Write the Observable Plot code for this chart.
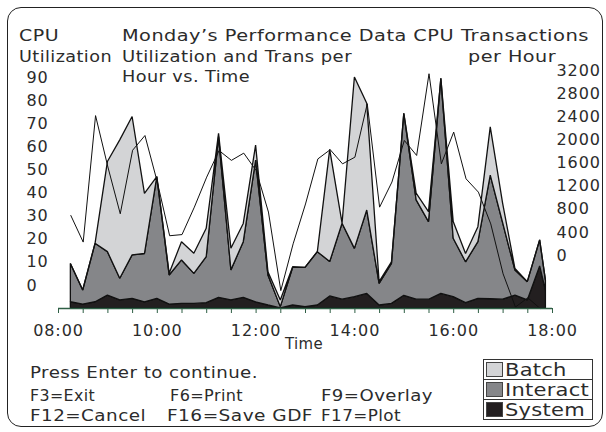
<!DOCTYPE html>
<html><head><meta charset="utf-8">
<script src="https://cdn.jsdelivr.net/npm/d3@7"></script>
<script src="https://cdn.jsdelivr.net/npm/@observablehq/plot@0.6"></script>
<style>
body{margin:0;background:#fff;}
#wrap{position:relative;width:606px;height:432px;font-family:"DejaVu Sans",sans-serif;font-size:16px;color:#2b2b2b;overflow:hidden;}
#frame{position:absolute;left:7px;top:7px;width:596px;height:420px;border:1.5px solid #222;border-radius:14px;box-sizing:border-box;}
.t{position:absolute;white-space:pre;line-height:16px;letter-spacing:0.4px;transform-origin:0 50%;}
#legend{position:absolute;left:483px;top:359px;width:108px;border:1px solid #333;background:#fff;}
.row{height:19px;display:flex;align-items:center;border-top:1px solid #333;position:relative;}
.row:first-child{border-top:none;}
.sw{width:17px;height:15px;margin:0 2px 0 2px;box-sizing:border-box;border:1px solid #444;flex:none;}
.lab{white-space:pre;line-height:16px;font-size:17px;letter-spacing:0.2px;display:inline-block;transform-origin:0 50%;}
#chart{position:absolute;left:0;top:0;}
</style></head>
<body><div id="wrap"><div id="frame"></div><div id="chart"></div></div>
<script>
// ---- data ----
const times = ["08:15","08:30","08:45","09:00","09:15","09:30","09:45","10:00","10:15","10:30",
  "10:45","11:00","11:15","11:30","11:45","12:00","12:15","12:30","12:45","13:00",
  "13:15","13:30","13:45","14:00","14:15","14:30","14:45","15:00","15:15","15:30",
  "15:45","16:00","16:15","16:30","16:45","17:00","17:15","17:30","17:45","17:52"];
const system   = [2.7,1.7,2.7,5.6,3.5,4.2,2.7,4.2,1.7,2.0, 2.0,2.3,4.6,3.5,4.6,2.7,1.3,0.0,1.3,0.6,
  1.3,5.2,3.8,4.9,6.3,1.3,2.0,5.5,3.8,3.8, 6.3,4.9,2.3,4.2,4.0,3.8,5.6,3.5,18.2,7.8];
const interact = [16.6,6.1,25.3,18.8,9.4,18.8,20.9,52.7,12.6,18.8, 13.0,19.9,69.6,13.0,24.1,61.3,13.0,0.6,16.3,17.0,
  23.1,14.9,32.9,20.9,36.1,9.4,17.3,78.8,43.0,33.6, 93.1,25.3,17.7,24.5,53.5,33.2,10.8,7.9,11.3,4.3];
const batch    = [0,0,0,39.0,59.9,59.9,26.0,0,0.7,7.9, 8.7,12.3,1.4,9.4,7.9,6.5,1.4,2.9,0.3,0,
  0,48.6,0,74.2,46.2,0.7,0.7,0,2.9,4.3, 0,7.2,3.6,6.5,20.9,8.4,0.7,0,0,0];
const transactions = [1610,1150,3340,2450,1640,2740,2995,2190,1260,1280, 1755,2275,2735,2565,2690,2390,1670,310,1120,1810,
  2590,2750,2505,2620,3545,1755,2190,2910,2650,4065, 2505,3055,2245,2015,1465,600,25,185,0,0];
const seriesNames = ["Batch","Interact","System"];
const seriesColors = ["#d3d4d6","#858689","#231f20"];
const cpuTicks = [0,10,20,30,40,50,60,70,80,90];
const transTicks = [0,400,800,1200,1600,2000,2400,2800,3200];
const timeTickLabels = ["08:00","10:00","12:00","14:00","16:00","18:00"];
const transPerCpu = 40;

// ---- build ----
const parse = d3.utcParse("%H:%M");
const T = times.map(parse);
const long = [];
T.forEach((t,i)=>{
  long.push({time:t, series:"System", value:system[i]});
  long.push({time:t, series:"Interact", value:interact[i]});
  long.push({time:t, series:"Batch", value:batch[i]});
});
const trans = T.map((t,i)=>({time:t, value:transactions[i]/transPerCpu}));
const axisGreen = "#2f5f45";
const halfHours = d3.utcMinute.every(30).range(parse("08:00"), new Date(+parse("18:00")+1));

const chart = Plot.plot({
  width:606, height:432,
  marginLeft:58, marginRight:54, marginTop:77, marginBottom:124,
  style:{fontFamily:"DejaVu Sans, sans-serif", fontSize:"16px", color:"#2b2b2b", letterSpacing:"0.9px", background:"transparent", overflow:"visible"},
  x:{type:"utc", domain:[parse("08:00"), parse("18:00")]},
  y:{domain:[0,100]},
  color:{domain:seriesNames, range:seriesColors},
  marks:[
    Plot.areaY(long, {x:"time", y:"value", fill:"series", z:"series", order:["System","Interact","Batch"], stroke:"#111", strokeWidth:1.3, strokeLinejoin:"miter"}),
    Plot.line(trans, {x:"time", y:"value", stroke:"#111", strokeWidth:1}),
    Plot.ruleY([0], {stroke:axisGreen, strokeWidth:1.5}),
    Plot.axisX(halfHours, {tickSize:5, stroke:axisGreen, tickFormat:()=>"" , label:null}),
    Plot.axisX(timeTickLabels.map(parse), {tickSize:0, tickPadding:16, tickFormat:d3.utcFormat("%H:%M"), label:null, fill:"#2b2b2b"}),
    Plot.axisY(cpuTicks, {anchor:"left", tickSize:0, tickPadding:0, textAnchor:"start", dx:-32, dy:-23.1, label:null, fill:"#2b2b2b"}),
    Plot.axisY(transTicks.map(v=>v/transPerCpu), {anchor:"right", tickSize:0, tickPadding:4, textAnchor:"start", dy:-53, tickFormat:v=>String(Math.round(v*transPerCpu)), label:null, fill:"#2b2b2b"})
  ]
});
document.getElementById("chart").appendChild(chart);

// ---- static texts (layout: left, baseline, width to fit) ----
const wrap = document.getElementById("wrap");
function fit(el, target){
  const w0 = el.getBoundingClientRect().width;
  const k = target / w0;
  el.style.transform = "scaleX(" + k + ")";
  return k;
}
function txt(s, left, baseline, target, center){
  const d = document.createElement("div");
  d.className = "t"; d.textContent = s;
  d.style.top = (baseline - 13.5) + "px";
  d.style.left = left + "px";
  wrap.appendChild(d);
  if (target) fit(d, target);
  if (center) d.style.left = (left - target/2) + "px";
}
txt("CPU", 19, 41, 40);
txt("Utilization", 19, 62, 93);
txt("Monday\u2019s Performance Data CPU", 122, 41, 332);
txt("Utilization and Trans per", 122, 62, 230);
txt("Hour vs. Time", 122, 82, 128);
txt("Transactions", 461, 41, 128);
txt("per Hour", 468, 62, 88);
txt("Time", 304, 349, 38, true);
txt("Press Enter to continue.", 30, 378, 228);
txt("F3=Exit", 30, 401, 65);
txt("F6=Print", 170, 401, 73);
txt("F9=Overlay", 321, 401, 112);
txt("F12=Cancel", 30, 421, 116);
txt("F16=Save GDF", 167, 421, 146);
txt("F17=Plot", 321, 421, 80);

const lg = document.createElement("div"); lg.id = "legend";
wrap.appendChild(lg);
const labs = seriesNames.map((n,i)=>{
  const r = document.createElement("div"); r.className = "row";
  const s = document.createElement("div"); s.className = "sw"; s.style.background = seriesColors[i];
  const l = document.createElement("span"); l.className = "lab"; l.textContent = n;
  r.appendChild(s); r.appendChild(l); lg.appendChild(r);
  return l;
});
const k = fit(labs[1], 84);
labs.forEach(l=>{ l.style.transform = "scaleX(" + k + ")"; });
</script></body></html>
